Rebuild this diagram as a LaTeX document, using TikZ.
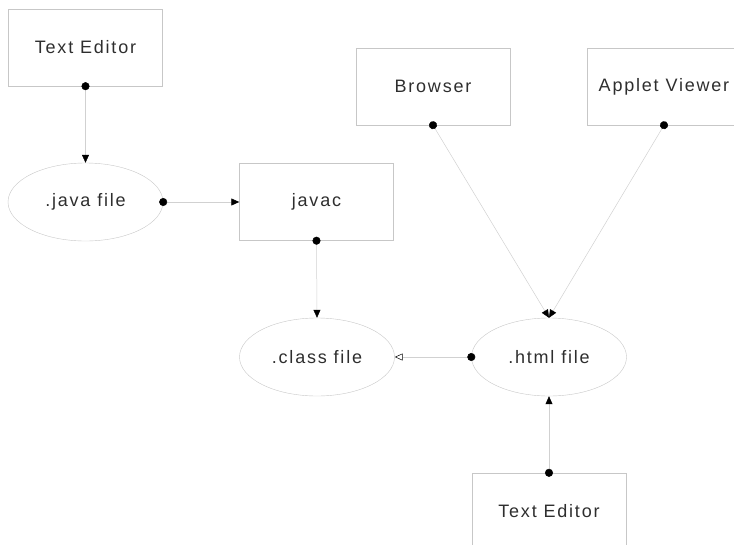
\documentclass[tikz,border=0pt]{standalone}
\usepackage{fontspec}
\newfontfamily\labelfont{Liberation Sans}[LetterSpace=10]
\usetikzlibrary{shapes.geometric, arrows.meta}

\begin{document}
\begin{tikzpicture}[x=1pt, y=-1pt,
    tool/.style={rectangle, draw=black!22, minimum width=154pt, minimum height=77pt, text=black!82, font=\labelfont\fontsize{18}{21}\selectfont},
    file/.style={ellipse, draw=black!22, minimum width=155pt, minimum height=78pt, text=black!82, font=\labelfont\fontsize{18}{21}\selectfont},
    link/.style={draw=black!18, line width=0.5pt, {Circle[length=8pt, color=black]}-{Triangle[length=8pt, width=7pt, color=black]}, shorten <=-4pt},
    back/.style={link, {Circle[length=8pt, color=black]}-{Triangle[open, length=8pt, width=7pt, color=black]}}
]
\useasboundingbox (0,0) rectangle (734,544);

% Programmi
\node[tool] (editA) at (85.5,47.5) {Text Editor};
\node[tool] (javac) at (316.5,202) {javac};
\node[tool] (browser) at (433,86.5) {Browser};
\node[tool] (viewer) at (664,86.5) {Applet Viewer};
\node[tool] (editB) at (549,511.5) {Text Editor};

% File
\node[file] (java) at (85.5,202) {.java file};
\node[file] (class) at (317,357) {.class file};
\node[file] (html) at (549,357) {.html file};

% Collegamenti
\draw[link] (editA.south) -- (java.north);
\draw[link] (java.east) -- (javac.west);
\draw[link] (javac.south) -- (class.north);
\draw[back] (html.west) -- (class.east);
\draw[link] (editB.north) -- (html.south);
\draw[link] (browser.south) -- (html.north);
\draw[link] (viewer.south) -- (html.north);

\end{tikzpicture}
\end{document}
